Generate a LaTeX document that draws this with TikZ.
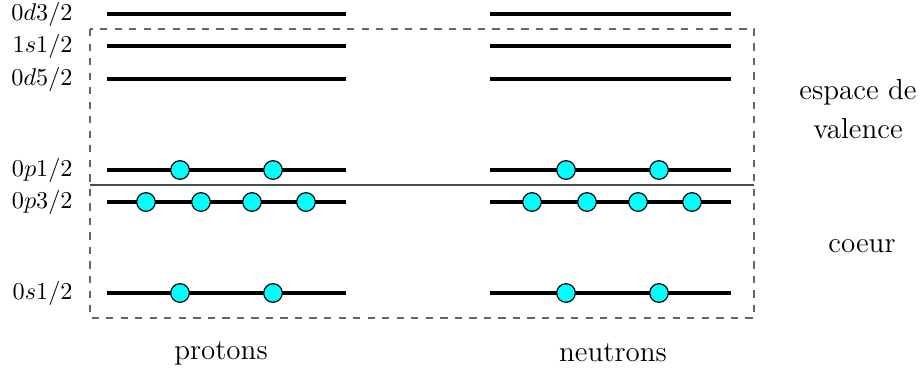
\documentclass[tikz,border=0pt]{standalone}
\definecolor{aquafill}{RGB}{0,255,255}
\begin{document}
\begin{tikzpicture}[x=0.413pt,y=-0.413pt,
  level/.style={line width=1.25pt,black},
  nucleon/.style={circle,draw=black,line width=0.5pt,fill=aquafill,minimum size=7.7pt,inner sep=0pt},
  lvllabel/.style={anchor=east,inner sep=0pt,font=\normalsize},
  biglabel/.style={font=\large,align=center,inner sep=0pt},
  box/.style={dashed,draw=black!60,line width=0.5pt}]
\useasboundingbox (0,0) rectangle (923,369);
% dashed box and separator
\draw[box] (90,29) rectangle (754,318);
\draw[black!70,line width=0.5pt] (90,185) -- (754,185);
% levels
\foreach \nm/\y/\lab in {d32/14/{$0d3/2$}, s12a/46/{$1s1/2$}, d52/79/{$0d5/2$}, p12/170/{$0p1/2$}, p32/202/{$0p3/2$}, s12/293/{$0s1/2$}}{
  \node[lvllabel] (lab\nm) at (73,\y) {\lab};
  \coordinate (pa\nm) at (107,\y);
  \coordinate (pb\nm) at (346,\y);
  \coordinate (na\nm) at (490,\y);
  \coordinate (nb\nm) at (731,\y);
  \draw[level] (pa\nm) -- (pb\nm);
  \draw[level] (na\nm) -- (nb\nm);
}
% protons
\node[nucleon] (pp1) at (180,170) {};
\node[nucleon] (pp2) at (273,170) {};
\node[nucleon] (pq1) at (146,202) {};
\node[nucleon] (pq2) at (201,202) {};
\node[nucleon] (pq3) at (252,202) {};
\node[nucleon] (pq4) at (306,202) {};
\node[nucleon] (ps1) at (180,293) {};
\node[nucleon] (ps2) at (273,293) {};
% neutrons
\node[nucleon] (np1) at (566,170) {};
\node[nucleon] (np2) at (659,170) {};
\node[nucleon] (nq1) at (532,202) {};
\node[nucleon] (nq2) at (587,202) {};
\node[nucleon] (nq3) at (638,202) {};
\node[nucleon] (nq4) at (692,202) {};
\node[nucleon] (ns1) at (566,293) {};
\node[nucleon] (ns2) at (659,293) {};
% labels
\node[biglabel] (valence) at (858,109) {espace de\\[2pt]valence};
\node[biglabel] (coeur) at (862,246) {coeur};
\node[biglabel] (protons) at (221,353) {protons};
\node[biglabel] (neutrons) at (613,353) {neutrons};
\end{tikzpicture}
\end{document}
